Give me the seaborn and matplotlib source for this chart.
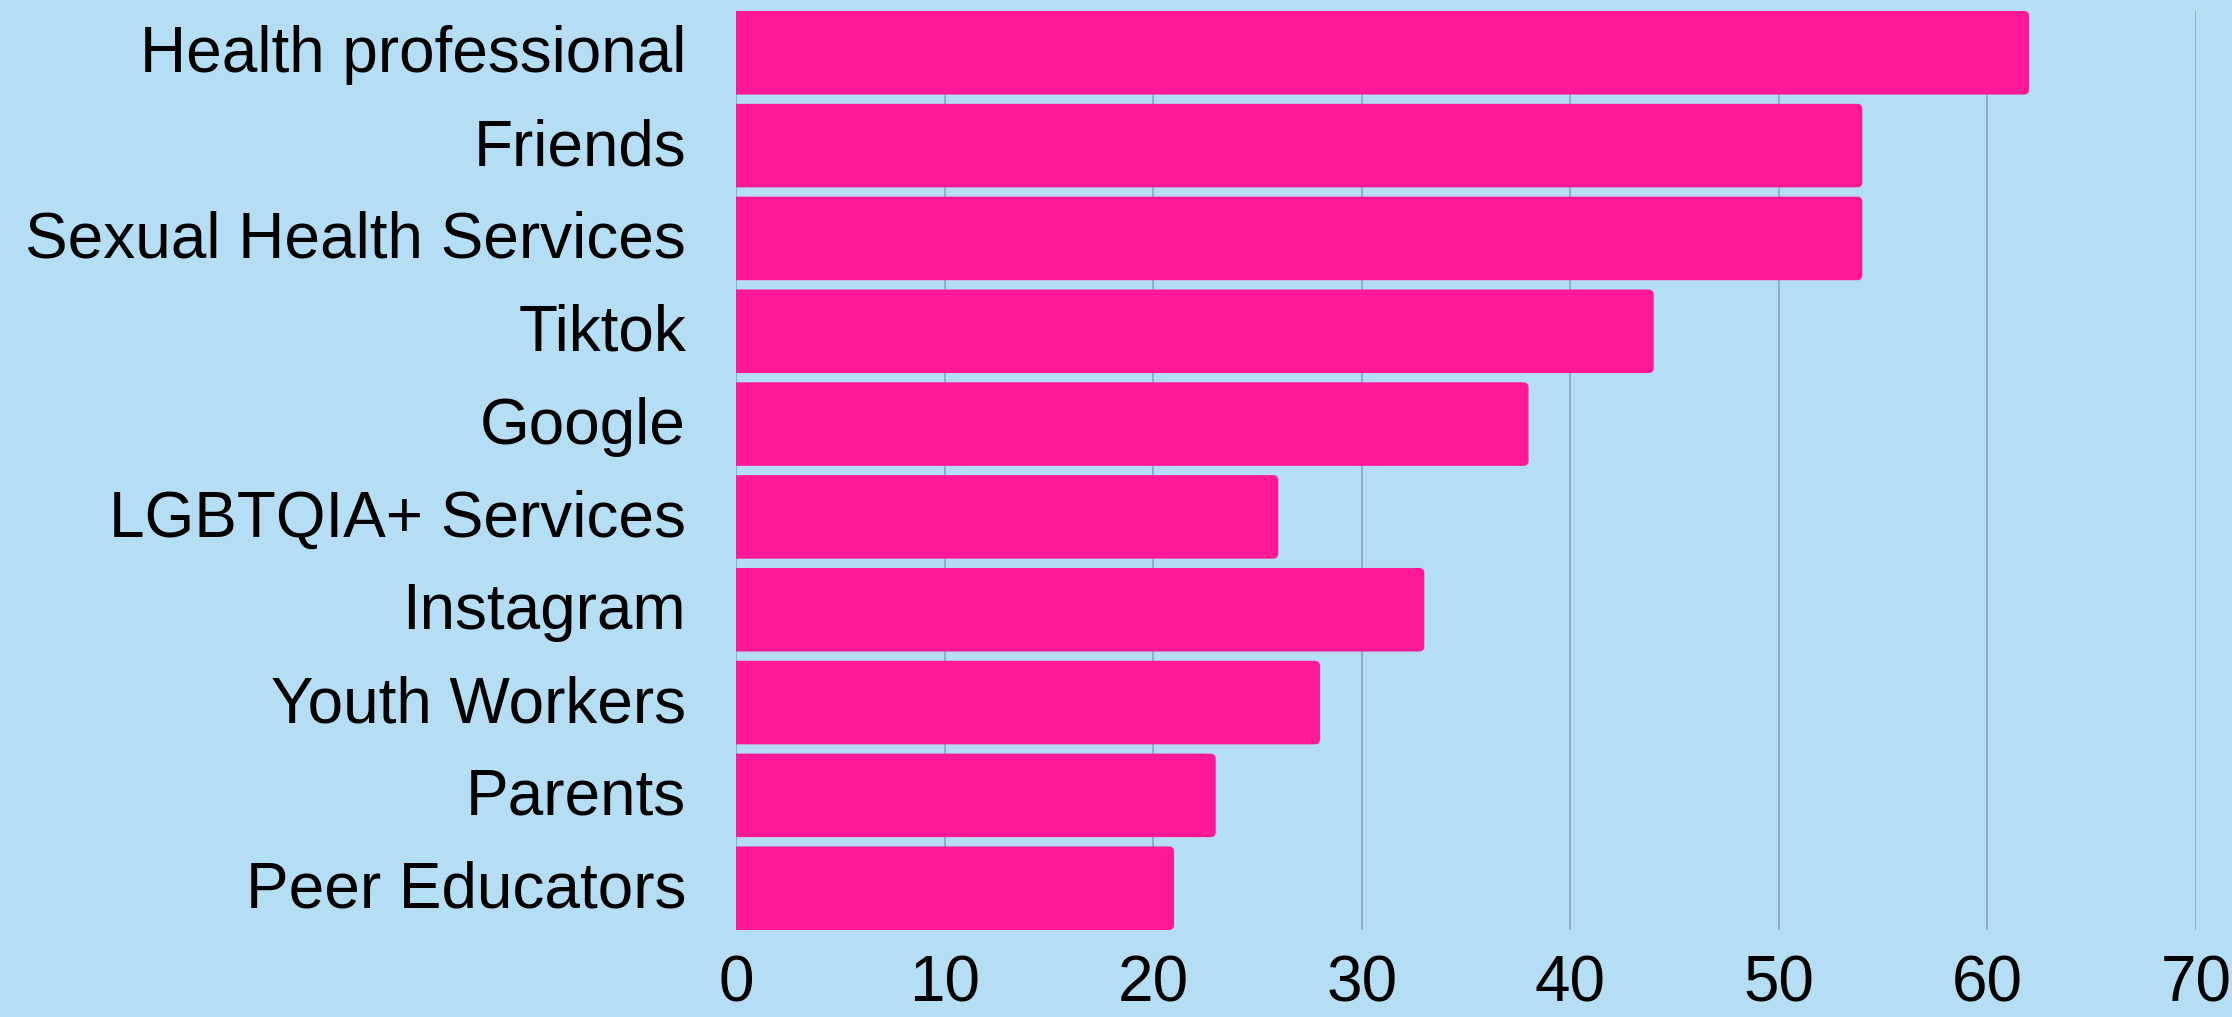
"""
Fontes de informação sobre saúde sexual — barras horizontais.

    python plot.py
"""

import matplotlib
matplotlib.use("Agg")

import matplotlib.pyplot as plt
import matplotlib.transforms as mtransforms
import pandas as pd
import seaborn as sns
from matplotlib.patches import FancyBboxPatch

FONTES = ["Health professional", "Friends", "Sexual Health Services", "Tiktok",
          "Google", "LGBTQIA+ Services", "Instagram", "Youth Workers",
          "Parents", "Peer Educators"]
VALORES = [62, 54, 54, 44, 38, 26, 33, 28, 23, 21]
TICKS_X = [0, 10, 20, 30, 40, 50, 60, 70]

FUNDO = "#B5DEF5"
ROSA = "#FF1999"
GRADE = "#8FAABD"

sns.set_theme(style="white")
plt.rcParams["font.family"] = ["Liberation Sans", "DejaVu Sans"]

df = pd.DataFrame({"fonte": FONTES, "valor": VALORES})

fig = plt.figure(figsize=(22.32, 10.17), dpi=100, facecolor=FUNDO)
ax = fig.add_axes([736 / 2232, 1 - 930 / 1017, 1460 / 2232, 919 / 1017])
ax.set_facecolor(FUNDO)

sns.barplot(data=df, x="valor", y="fonte", color=ROSA, width=0.9,
            saturation=1, ax=ax, zorder=2)

# cantos direitos arredondados: troca cada retângulo por um FancyBboxPatch
for barra in list(ax.patches):
    x, y = barra.get_x(), barra.get_y()
    w, h = barra.get_width(), barra.get_height()
    barra.remove()
    ax.add_patch(FancyBboxPatch((x - 1, y), w + 1, h,
                                boxstyle="round,pad=0,rounding_size=0.25",
                                mutation_aspect=0.22, facecolor=ROSA,
                                edgecolor="none", zorder=2))

ax.set_xlim(0, 70)
ax.set_ylim(9.45, -0.45)
ax.set_xticks(TICKS_X)
ax.xaxis.grid(True, color=GRADE, linewidth=1.3, zorder=1)
ax.set_axisbelow(True)
for lado in ax.spines.values():
    lado.set_visible(False)

ax.tick_params(axis="both", length=0, labelsize=46, colors="black")
ax.tick_params(axis="y", pad=36)
ax.tick_params(axis="x", pad=18)
ax.set_xlabel("")
ax.set_ylabel("")

# rótulos do eixo y um pouco mais altos, como no original
sobe = mtransforms.ScaledTranslation(0, 4 / 100, fig.dpi_scale_trans)
for rotulo in ax.get_yticklabels():
    rotulo.set_transform(rotulo.get_transform() + sobe)

fig.savefig("out.png", dpi=100, facecolor=FUNDO)
plt.close(fig)
